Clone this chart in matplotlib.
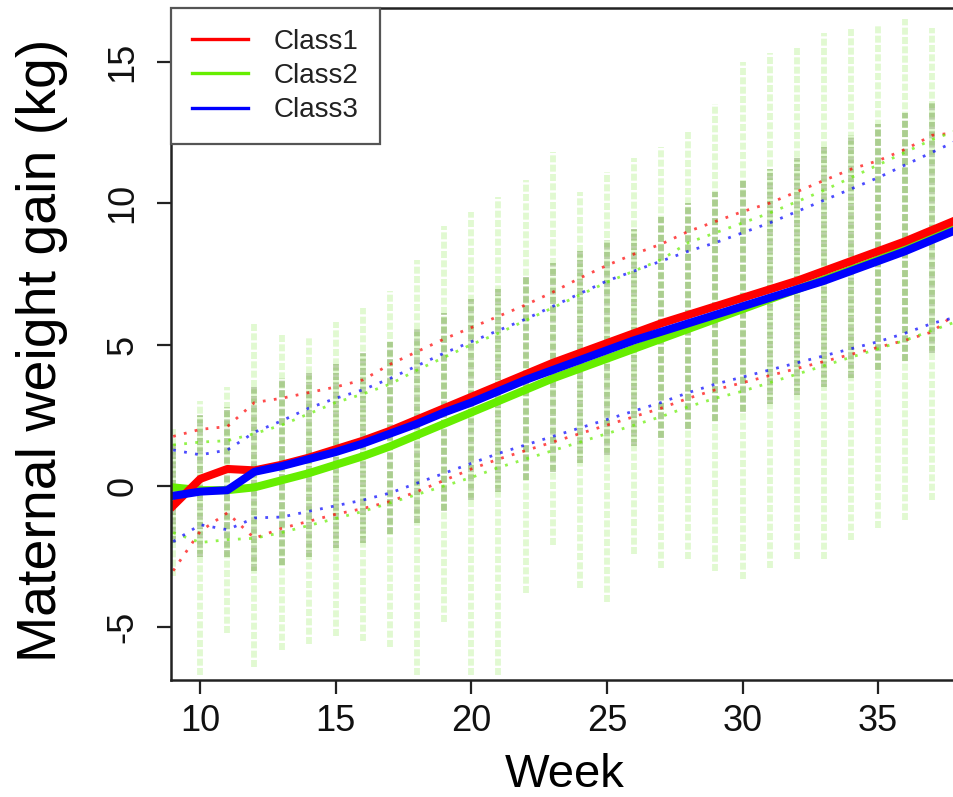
import matplotlib
matplotlib.use('Agg')
import matplotlib.pyplot as plt
import numpy as np

# weeks of gestation
weeks = np.arange(9, 39)

# mean weight gain per class (kg)
class1_mean = [-0.7, 0.25, 0.6, 0.55, 0.75, 1.0, 1.3, 1.6, 1.95, 2.35, 2.75, 3.15, 3.55, 3.95, 4.35,
               4.7, 5.05, 5.4, 5.75, 6.05, 6.35, 6.65, 6.95, 7.25, 7.6, 7.95, 8.3, 8.65, 9.05, 9.45]
class2_mean = [-0.05, -0.15, -0.15, -0.05, 0.2, 0.45, 0.75, 1.05, 1.4, 1.8, 2.2, 2.6, 3.0, 3.4, 3.8,
               4.15, 4.5, 4.85, 5.2, 5.55, 5.9, 6.25, 6.6, 6.95, 7.3, 7.65, 8.0, 8.4, 8.8, 9.3]
class3_mean = [-0.35, -0.2, -0.15, 0.5, 0.7, 0.95, 1.2, 1.5, 1.85, 2.2, 2.6, 2.95, 3.35, 3.75, 4.1,
               4.45, 4.8, 5.15, 5.45, 5.75, 6.05, 6.35, 6.65, 6.95, 7.25, 7.6, 7.95, 8.3, 8.7, 9.1]

# upper / lower bands (dotted)
class1_upper = [1.75, 2.0, 2.1, 2.95, 3.1, 3.3, 3.5, 3.75, 4.3, 4.75, 5.2, 5.6, 6.0, 6.4, 6.85,
                7.35, 7.8, 8.2, 8.55, 9.0, 9.35, 9.7, 10.0, 10.4, 10.8, 11.2, 11.5, 11.9, 12.4, 12.5]
class2_upper = [1.45, 1.55, 1.6, 1.85, 2.15, 2.55, 2.95, 3.25, 3.6, 4.1, 4.55, 5.0, 5.4, 5.85, 6.3,
                6.75, 7.2, 7.6, 8.0, 8.6, 8.95, 9.3, 9.65, 10.05, 10.45, 10.9, 11.35, 11.8, 12.25, 12.6]
class3_upper = [1.27, 1.1, 1.27, 1.9, 2.3, 2.75, 3.1, 3.4, 3.8, 4.25, 4.7, 5.1, 5.5, 5.9, 6.35,
                6.8, 7.25, 7.6, 7.95, 8.3, 8.6, 8.95, 9.3, 9.7, 10.1, 10.5, 10.9, 11.35, 11.8, 12.25]
class1_lower = [-3.0, -1.6, -0.95, -1.85, -1.5, -1.25, -1.0, -0.8, -0.55, -0.2, 0.2, 0.6, 0.95, 1.25, 1.55,
                1.85, 2.15, 2.45, 2.75, 3.1, 3.4, 3.65, 3.9, 4.15, 4.4, 4.65, 4.9, 5.15, 5.45, 6.2]
class2_lower = [-1.65, -2.0, -1.9, -1.85, -1.65, -1.4, -1.15, -0.9, -0.6, -0.3, 0.0, 0.3, 0.65, 0.95, 1.25,
                1.55, 1.85, 2.15, 2.45, 2.8, 3.1, 3.35, 3.65, 3.95, 4.25, 4.55, 4.85, 5.15, 5.5, 5.85]
class3_lower = [-1.97, -1.37, -1.55, -1.13, -1.1, -0.9, -0.7, -0.5, -0.25, 0.1, 0.45, 0.8, 1.15, 1.45, 1.75,
                2.05, 2.35, 2.65, 2.95, 3.3, 3.6, 3.85, 4.1, 4.35, 4.6, 4.85, 5.1, 5.4, 5.75, 6.0]

# individual observations: spread per week (sparse outer range, dense core)
cloud_lo = [-3.2, -6.7, -5.2, -6.4, -5.8, -5.6, -5.3, -5.5, -5.7, -6.7, -4.8, -6.7, -6.7, -3.8, -2.1,
            -3.6, -4.1, -2.4, -2.9, -2.6, -3.0, -3.3, -2.9, -2.6, -2.6, -1.9, -1.5, -1.2, -0.5, 0.5]
cloud_hi = [2.0, 3.0, 3.5, 5.8, 5.4, 5.3, 5.8, 6.3, 6.9, 8.0, 9.2, 9.7, 10.2, 10.8, 11.8,
            10.4, 11.1, 11.6, 12.0, 12.5, 13.5, 15.0, 15.3, 15.5, 16.0, 16.2, 16.3, 16.5, 16.2, 16.0]
core_lo = [-2.0, -2.5, -2.5, -3.0, -2.8, -2.5, -2.2, -2.0, -1.7, -1.3, -0.9, -0.5, -0.2, 0.2, 0.5,
           0.8, 1.1, 1.4, 1.7, 2.0, 2.3, 2.6, 2.9, 3.2, 3.5, 3.8, 4.1, 4.4, 4.7, 5.0]
core_hi = [1.5, 2.5, 2.8, 3.5, 3.8, 4.0, 4.3, 4.7, 5.1, 5.6, 6.1, 6.6, 7.0, 7.4, 7.9,
           8.3, 8.7, 9.1, 9.5, 10.0, 10.4, 10.8, 11.2, 11.6, 12.0, 12.4, 12.8, 13.2, 13.6, 14.0]

labels = ['Class1', 'Class2', 'Class3']
colors = ['#ff0000', '#66ee00', '#0000ff']

plt.rcParams['font.family'] = ['Liberation Sans', 'DejaVu Sans']
plt.rcParams['axes.unicode_minus'] = False

fig = plt.figure(figsize=(9.54, 7.97), dpi=100)
ax = fig.add_axes([0.1795, 0.1465, 0.8205, 0.8435])

# observation columns
ax.vlines(weeks, cloud_lo, cloud_hi, color='#8ae84a', alpha=0.25, linewidth=4.2,
          linestyles=(0, (1.2, 0.4)))
ax.vlines(weeks, core_lo, core_hi, color='#6a9a40', alpha=0.45, linewidth=4.2,
          linestyles=(0, (1.2, 0.4)))

# dotted bands
for up, lo, c in zip([class1_upper, class2_upper, class3_upper],
                     [class1_lower, class2_lower, class3_lower], colors):
    ax.plot(weeks, up, color=c, alpha=0.7, linewidth=2.0, linestyle=(0, (1, 3)))
    ax.plot(weeks, lo, color=c, alpha=0.7, linewidth=2.0, linestyle=(0, (1, 3)))

# mean lines
ax.plot(weeks, class2_mean, color=colors[1], linewidth=5.8, solid_joinstyle='round')
ax.plot(weeks, class1_mean, color=colors[0], linewidth=5.8, solid_joinstyle='round')
ax.plot(weeks, class3_mean, color=colors[2], linewidth=5.8, solid_joinstyle='round')

ax.set_xlim(8.93, 37.8)
ax.set_ylim(-6.87, 16.9)
ax.set_xticks([10, 15, 20, 25, 30, 35])
ax.set_yticks([-5, 0, 5, 10, 15])

for s in ['left', 'bottom', 'top']:
    ax.spines[s].set_linewidth(1.8)
    ax.spines[s].set_color('#222222')
ax.spines['right'].set_visible(False)

ax.tick_params(axis='both', direction='out', length=10, width=1.6, color='#222222',
               labelsize=26, labelcolor='#111111')
ax.tick_params(axis='x', pad=7)
ax.tick_params(axis='y', pad=12, labelrotation=90)
for t in ax.get_yticklabels():
    t.set_verticalalignment('center')

# legend
handles = [plt.Line2D([], [], color=c, linewidth=2.4) for c in colors]
leg = ax.legend(handles, labels, loc='upper left', bbox_to_anchor=(0, 1), borderaxespad=0,
                fontsize=20, handlelength=2.0, handletextpad=0.95, labelspacing=0.3,
                borderpad=0.75, fancybox=False, framealpha=1, edgecolor='#555555')
leg.get_frame().set_linewidth(1.6)
for t in leg.get_texts():
    t.set_color('#222222')

fig.text(0.592, 0.028, 'Week', fontsize=34, ha='center', va='center')
fig.text(0.044, 0.561, 'Maternal weight gain (kg)', fontsize=40, rotation=90,
         ha='center', va='center')

plt.savefig('out.png', dpi=100)
